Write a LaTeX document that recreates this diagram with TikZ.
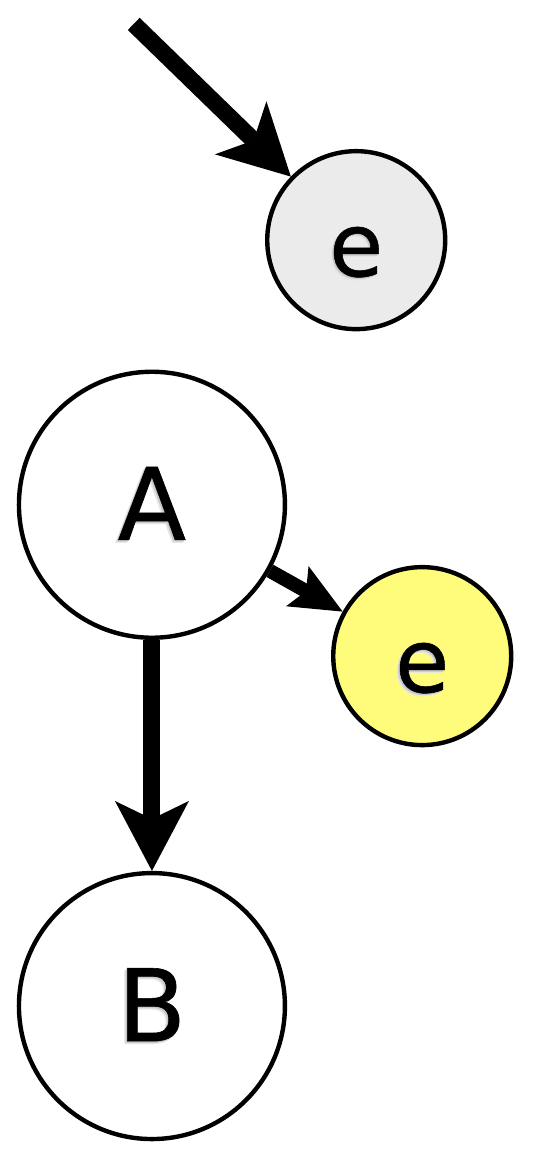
\documentclass[tikz,border=0pt]{standalone}
\usepackage{fontspec}
\setmainfont[FakeBold=0.6]{DejaVu Sans}
\usepackage{xcolor}
\usetikzlibrary{arrows.meta}
\definecolor{lightyellow}{RGB}{255,251,123}
\newcommand{\softtext}[1]{\makebox[0pt][l]{\kern-1.4pt\raisebox{-1.4pt}{\color{black!10}#1}}\makebox[0pt][l]{\kern-0.7pt\raisebox{-0.7pt}{\color{black!22}#1}}#1}
\begin{document}
\begin{tikzpicture}[scale=0.1]
\tikzstyle{every node}+=[inner sep=0pt]
\tikzstyle{bignode}=[circle, draw=black, line width=2.2pt, minimum size=133pt, fill=white, font=\fontsize{50}{60}\selectfont]
\tikzstyle{evidence}=[circle, draw=black, line width=2.2pt, minimum size=89pt, font=\fontsize{44}{52}\selectfont, text height=36pt, text depth=0pt]
\tikzstyle{bigarrow}=[black, line width=8.5pt, -{Stealth[length=35pt, width=37pt, inset=9pt, line width=0pt]}]
\tikzstyle{smallarrow}=[black, line width=7pt, -{Stealth[length=26pt, width=23pt, inset=5pt, line width=0pt]}]
\useasboundingbox (0,0) rectangle (93.84,-203.5);
\coordinate (src) at (23.5,-4.2);
\node [evidence, fill=black!8] (e1) at (62.6,-42.2) {\softtext{e}};
\node [bignode] (A) at (26.7,-88.7) {\softtext{A}};
\node [evidence, fill=lightyellow] (e2) at (74.2,-115.3) {\softtext{e}};
\node [bignode] (B) at (26.7,-176.8) {\softtext{B}};
\draw [bigarrow] (src) -- (e1);
\draw [bigarrow] (A) -- (B);
\draw [smallarrow] (A) -- (e2);
\end{tikzpicture}
\end{document}
